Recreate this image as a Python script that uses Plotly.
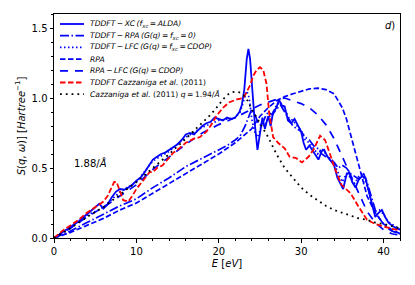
import plotly.graph_objects as go

# ---------------- data ----------------
E_xc = [0, 1, 2, 3, 4, 5, 5.5, 6, 6.5, 7, 7.5, 8, 8.5, 9, 9.5, 10, 10.5, 11, 11.5, 12, 12.5, 13, 13.5, 14,
        14.5, 15, 15.5, 16, 16.5, 17, 17.5, 18, 18.5, 19, 19.5, 20, 20.5, 21, 21.5, 22, 22.5, 22.8, 23.1,
        23.4, 23.6, 23.8, 24.1, 24.4, 24.7, 25, 25.3, 25.6, 26, 26.3, 26.6, 27, 27.3, 27.6, 28, 28.4, 28.8,
        29.2, 29.6, 30, 30.3, 30.6, 31, 31.4, 31.8, 32.1, 32.5, 32.8, 33.2, 33.6, 34, 34.4, 34.8, 35.1, 35.5,
        35.8, 36.2, 36.6, 37, 37.4, 37.8, 38.2, 38.6, 39, 39.4, 39.8, 40.2, 40.6, 41, 41.5, 42]
S_xc = [0, 0.04, 0.08, 0.12, 0.17, 0.22, 0.245, 0.21, 0.24, 0.29, 0.33, 0.35, 0.345, 0.36, 0.38, 0.41, 0.43,
        0.47, 0.52, 0.56, 0.58, 0.6, 0.61, 0.63, 0.65, 0.67, 0.7, 0.74, 0.75, 0.74, 0.77, 0.8, 0.82, 0.83,
        0.86, 0.85, 0.84, 0.86, 0.85, 0.86, 0.9, 0.95, 1.06, 1.28, 1.35, 1.28, 1.0, 0.8, 0.63, 0.75, 0.86,
        0.78, 0.87, 0.8, 0.9, 0.93, 0.99, 0.95, 0.94, 0.84, 0.82, 0.85, 0.8, 0.76, 0.68, 0.63, 0.66, 0.62,
        0.58, 0.56, 0.62, 0.63, 0.58, 0.55, 0.52, 0.43, 0.38, 0.35, 0.45, 0.47, 0.4, 0.36, 0.42, 0.44, 0.43,
        0.33, 0.24, 0.15, 0.18, 0.2, 0.15, 0.11, 0.09, 0.07, 0.06]

E_rpa0 = [0, 2, 4, 6, 8, 10, 12, 14, 16, 18, 20, 21, 22, 22.6, 23.2, 23.6, 24, 24.4, 24.8, 25.2, 25.6, 26,
          26.5, 27, 27.5, 28, 28.5, 29, 29.5, 30, 30.5, 31, 31.5, 32, 32.5, 33, 33.5, 34, 34.5, 35, 35.5,
          36, 36.5, 37, 37.5, 38, 38.5, 39, 39.5, 40, 40.5, 41, 42]
S_rpa0 = [0, 0.05, 0.11, 0.17, 0.23, 0.28, 0.36, 0.43, 0.51, 0.57, 0.63, 0.66, 0.7, 0.73, 0.8, 0.86, 0.92,
          0.88, 0.82, 0.8, 0.86, 0.9, 0.88, 0.92, 0.95, 0.9, 0.85, 0.8, 0.78, 0.76, 0.72, 0.7, 0.66, 0.64,
          0.6, 0.58, 0.57, 0.54, 0.5, 0.52, 0.5, 0.46, 0.44, 0.42, 0.47, 0.4, 0.3, 0.2, 0.14, 0.1, 0.07,
          0.05, 0.03]

E_lfc = [0, 2, 4, 6, 8, 10, 12, 14, 16, 18, 20, 21, 22, 22.6, 23, 23.4, 23.7, 24, 24.4, 24.8, 25.2, 25.6,
         26, 26.5, 27, 27.5, 28, 28.5, 29, 29.5, 30, 30.5, 31, 31.5, 32, 32.5, 33, 33.5, 34, 34.5, 35, 35.5,
         36, 36.5, 37, 37.5, 38, 38.5, 39, 39.5, 40, 40.5, 41, 41.5, 42]
S_lfc = [0, 0.075, 0.16, 0.22, 0.33, 0.4, 0.55, 0.62, 0.72, 0.79, 0.84, 0.85, 0.86, 0.9, 0.97, 1.05, 1.0,
         0.85, 0.75, 0.72, 0.82, 0.8, 0.86, 0.88, 0.95, 0.97, 0.92, 0.86, 0.84, 0.8, 0.77, 0.7, 0.68, 0.64,
         0.6, 0.64, 0.6, 0.56, 0.53, 0.46, 0.4, 0.46, 0.43, 0.39, 0.44, 0.45, 0.37, 0.27, 0.19, 0.2, 0.17,
         0.12, 0.1, 0.08, 0.06]

E_rpa = [0, 2, 4, 6, 8, 10, 12, 14, 16, 18, 20, 22, 24, 25, 26, 27, 28, 29, 30, 31, 32, 33, 34, 35, 35.5,
         36, 36.5, 37, 37.5, 38, 39, 40, 41, 42]
S_rpa = [0, 0.04, 0.09, 0.14, 0.2, 0.25, 0.32, 0.39, 0.46, 0.53, 0.6, 0.68, 0.78, 0.87, 0.93, 0.98, 1.01,
         1.03, 1.05, 1.065, 1.07, 1.06, 1.03, 0.93, 0.85, 0.74, 0.62, 0.5, 0.39, 0.3, 0.18, 0.1, 0.06, 0.03]

E_rpalfc = [0, 2, 4, 6, 8, 10, 12, 14, 16, 18, 20, 22, 23, 24, 25, 26, 27, 28, 29, 30, 31, 32, 33, 34, 35,
            36, 37, 38, 39, 40, 41, 42]
S_rpalfc = [0, 0.07, 0.15, 0.22, 0.3, 0.38, 0.49, 0.58, 0.67, 0.75, 0.81, 0.86, 0.89, 0.92, 0.95, 0.97,
            0.99, 1.0, 0.98, 0.96, 0.93, 0.88, 0.81, 0.71, 0.58, 0.45, 0.31, 0.19, 0.11, 0.06, 0.03, 0.02]

E_caz = [0, 1, 2, 3, 4, 5, 5.5, 6, 6.5, 7, 7.3, 7.6, 8, 8.4, 9, 9.5, 10, 10.4, 11, 11.6, 12, 12.5, 13.2,
         13.8, 14.5, 15, 16, 17, 17.7, 18.5, 19, 19.7, 20.5, 21.3, 22.2, 23, 23.4, 23.8, 24.2, 24.6, 25,
         25.4, 25.8, 26.1, 26.6, 27.2, 28, 28.6, 29.4, 30.1, 30.9, 31.5, 32.3, 32.9, 33.5, 34, 34.9, 36,
         36.9, 38, 39, 40, 41, 42]
S_caz = [0, 0.05, 0.09, 0.13, 0.18, 0.22, 0.24, 0.26, 0.3, 0.36, 0.4, 0.4, 0.33, 0.27, 0.26, 0.3, 0.35,
         0.38, 0.43, 0.47, 0.47, 0.5, 0.52, 0.56, 0.61, 0.63, 0.68, 0.71, 0.72, 0.76, 0.8, 0.87, 0.93, 0.97,
         0.99, 1.0, 1.04, 1.09, 1.16, 1.2, 1.22, 1.2, 1.1, 0.9, 0.72, 0.68, 0.64, 0.58, 0.57, 0.54, 0.58,
         0.63, 0.73, 0.7, 0.6, 0.51, 0.38, 0.32, 0.23, 0.13, 0.1, 0.08, 0.065, 0.055]

E_exp = [0, 2, 4, 6, 8, 10, 12, 14, 16, 18, 19, 20, 20.5, 21, 21.5, 22, 22.5, 23, 23.5, 24, 24.5, 25, 26,
         27, 28, 29, 30, 31, 32, 33, 34, 35, 36, 37, 38, 39, 40, 41, 42]
S_exp = [0, 0.07, 0.15, 0.22, 0.31, 0.4, 0.5, 0.6, 0.71, 0.82, 0.88, 0.95, 0.99, 1.02, 1.04, 1.045, 1.04,
         1.02, 0.98, 0.92, 0.87, 0.82, 0.72, 0.6, 0.5, 0.43, 0.36, 0.31, 0.27, 0.23, 0.2, 0.18, 0.16, 0.14,
         0.13, 0.11, 0.1, 0.085, 0.07]

TS = "\u2009"  # thin space, as in matplotlib mathtext
legend_labels = [
    f"<i>TDDFT{TS}−{TS}XC{TS}(f<sub>xc</sub>{TS}={TS}ALDA)</i>",
    f"<i>TDDFT{TS}−{TS}RPA{TS}(G(q){TS}={TS}f<sub>xc</sub>{TS}={TS}0)</i>",
    f"<i>TDDFT{TS}−{TS}LFC{TS}(G(q){TS}={TS}f<sub>xc</sub>{TS}={TS}CDOP)</i>",
    "<i>RPA</i>",
    f"<i>RPA{TS}−{TS}LFC{TS}(G(q){TS}={TS}CDOP)</i>",
    "<i>TDDFT Cazzaniga et al.</i> (2011)",
    f"<i>Cazzaniga et al.</i> (2011) <i>q</i>{TS}={TS}1.94/<i>Å</i>",
]
x_ticks = [0, 10, 20, 30, 40]
y_ticks = [0.0, 0.5, 1.0, 1.5]

# ---------------- styles ----------------
BLUE = "#0000ff"
styles = [
    dict(color=BLUE, dash="solid", width=1.8),
    dict(color=BLUE, dash="9px,2.5px,1.5px,2.5px", width=1.7),
    dict(color=BLUE, dash="1.5px,2.5px", width=1.7),
    dict(color=BLUE, dash="5.5px,2.5px", width=1.7),
    dict(color=BLUE, dash="8px,7px", width=1.7),
    dict(color="#ff0000", dash="5.5px,2.5px", width=1.8),
    dict(color="black", dash="1.8px,4px", width=1.8),
]
data = [(E_xc, S_xc), (E_rpa0, S_rpa0), (E_lfc, S_lfc), (E_rpa, S_rpa),
        (E_rpalfc, S_rpalfc), (E_caz, S_caz), (E_exp, S_exp)]

W, H = 415, 285
L, R, T, B = 54, 15, 14, 47
PW, PH = W - L - R, H - T - B
FONT = "DejaVu Sans"

fig = go.Figure()
for (xs, ys), st, lab in zip(data, styles, legend_labels):
    fig.add_trace(go.Scatter(x=xs, y=ys, mode="lines", line=st, name=lab,
                             showlegend=False, hoverinfo="skip"))

def px2paper_x(px):
    return (px - L) / PW

def px2paper_y(py):
    return (H - B - py) / PH

row0, dy = 24.0, 11.7
for i, (st, lab) in enumerate(zip(styles, legend_labels)):
    yy = px2paper_y(row0 + i * dy)
    fig.add_shape(type="line", xref="paper", yref="paper",
                  x0=px2paper_x(60), x1=px2paper_x(84), y0=yy, y1=yy,
                  line=dict(color=st["color"], dash=st["dash"], width=st["width"]))
    fig.add_annotation(xref="paper", yref="paper", x=px2paper_x(88), y=yy,
                       xanchor="left", yanchor="middle", showarrow=False,
                       text=lab, font=dict(family=FONT, size=7.6, color="black"))

fig.add_annotation(xref="paper", yref="paper", x=px2paper_x(72), y=px2paper_y(163),
                   xanchor="left", yanchor="middle", showarrow=False,
                   text="1.88/<i>Å</i>", font=dict(family=FONT, size=10, color="black"))
fig.add_annotation(xref="paper", yref="paper", x=px2paper_x(397), y=px2paper_y(25),
                   xanchor="right", yanchor="middle", showarrow=False,
                   text="<i>d</i>)", font=dict(family=FONT, size=10, color="black"))

axis_common = dict(showline=True, linecolor="black", linewidth=1, mirror=True,
                   ticks="outside", ticklen=3.5, tickwidth=1, tickcolor="black",
                   showgrid=False, zeroline=False, automargin=False,
                   tickfont=dict(family=FONT, size=10, color="black"))
fig.update_xaxes(range=[0, 42], tickvals=x_ticks, ticktext=[str(v) for v in x_ticks],
                 minor=dict(dtick=2, tick0=0, ticks="outside", ticklen=2, tickcolor="black"),
                 title=dict(text="<i>E</i> [<i>eV</i>]", font=dict(family=FONT, size=10, color="black"),
                            standoff=4),
                 **axis_common)
fig.update_yaxes(range=[0, 1.6], tickvals=y_ticks, ticktext=[f"{v:.1f}" for v in y_ticks],
                 minor=dict(dtick=0.1, tick0=0, ticks="outside", ticklen=2, tickcolor="black"),
                 title=dict(text="<i>S</i>(<i>q</i>, <i>ω</i>)] [<i>Hartree</i><sup>−1</sup>]",
                            font=dict(family=FONT, size=10, color="black"), standoff=4),
                 **axis_common)
fig.update_layout(width=W, height=H, margin=dict(l=L, r=R, t=T, b=B),
                  paper_bgcolor="white", plot_bgcolor="white",
                  font=dict(family=FONT, size=10, color="black"))
fig.write_html("out.html", config={"displayModeBar": False},
               post_script="document.body.style.margin='0px';document.body.style.padding='0px';")
